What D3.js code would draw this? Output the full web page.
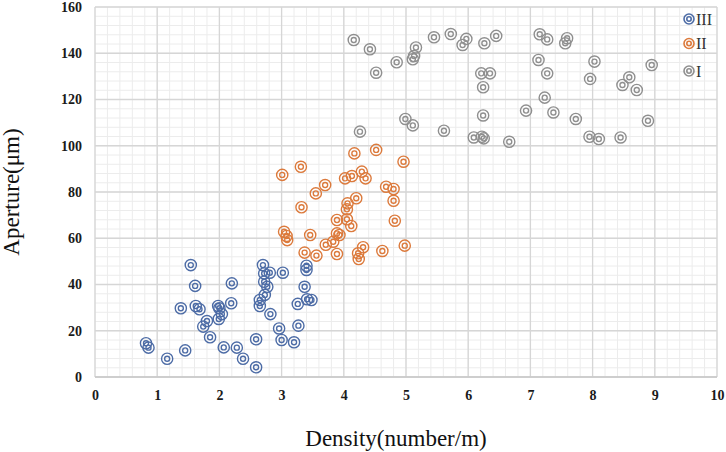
<!DOCTYPE html>
<html>
<head>
<meta charset="utf-8">
<script src="https://cdn.jsdelivr.net/npm/d3@7"></script>
<style>
  body { margin: 0; background: #fff; }
  text { font-family: "Liberation Serif", "Times New Roman", serif; }
</style>
</head>
<body>
<div id="chart"></div>
<script>
// group III (blue)
var seriesIII = [
  [0.82, 14.6], [0.86, 12.7], [1.16, 7.9], [1.45, 11.5], [1.38, 29.7],
  [1.54, 48.4], [1.61, 39.4], [1.62, 30.7], [1.68, 29.3], [1.80, 24.2],
  [1.74, 21.8], [1.85, 17.2], [1.98, 30.7], [2.00, 29.7], [2.04, 27.2],
  [1.99, 25.1], [2.20, 40.5], [2.19, 31.9], [2.07, 12.8], [2.28, 12.7],
  [2.38, 7.9], [2.59, 16.3], [2.59, 4.2], [2.70, 48.4], [2.72, 44.8],
  [2.81, 45.1], [2.72, 41.2], [2.77, 39.0], [2.73, 35.5], [2.65, 33.3],
  [2.65, 30.7], [2.82, 27.2], [3.02, 45.1], [2.96, 21.0], [3.00, 16.0],
  [3.20, 15.0], [3.27, 22.2], [3.26, 31.6], [3.37, 39.0], [3.40, 48.1],
  [3.40, 46.3], [3.41, 33.6], [3.48, 33.3]
];

// group II (orange)
var seriesII = [
  [3.01, 87.4], [3.31, 90.9], [4.17, 96.7], [4.52, 98.2], [4.96, 93.1],
  [3.70, 83.0], [3.55, 79.4], [4.02, 85.9], [4.13, 86.9], [4.29, 88.8],
  [4.35, 85.9], [4.68, 82.3], [4.80, 81.3], [4.80, 76.2], [4.20, 77.3],
  [4.06, 75.1], [4.05, 72.5], [3.32, 73.4], [3.89, 67.9], [4.05, 68.2],
  [4.12, 65.3], [4.82, 67.6], [3.04, 62.8], [3.08, 61.0], [3.09, 59.2],
  [3.46, 61.4], [3.89, 62.1], [3.93, 61.4], [3.71, 57.2], [3.83, 58.5],
  [3.37, 53.8], [3.56, 52.5], [3.89, 53.2], [4.23, 53.5], [4.31, 56.1],
  [4.62, 54.5], [4.98, 56.8], [4.24, 51.0]
];

// group I (grey)
var seriesI = [
  [4.16, 145.7], [4.42, 141.7], [4.52, 131.6], [4.85, 136.1], [5.16, 142.5],
  [5.13, 138.8], [5.11, 137.4], [5.45, 146.9], [5.72, 148.3], [5.91, 143.6],
  [5.97, 146.2], [6.26, 144.3], [6.45, 147.5], [6.21, 131.3], [6.35, 131.3],
  [6.24, 125.3], [6.93, 115.2], [6.24, 113.1], [4.99, 111.6], [5.11, 108.8],
  [4.26, 106.1], [5.61, 106.5], [6.09, 103.6], [6.22, 103.9], [6.25, 103.2],
  [6.66, 101.7], [7.15, 148.2], [7.27, 146.0], [7.59, 146.5], [7.56, 144.3],
  [7.13, 137.1], [7.27, 131.3], [8.03, 136.4], [7.96, 128.9], [8.48, 126.3],
  [8.59, 129.6], [8.71, 124.1], [7.23, 120.8], [7.37, 114.4], [7.73, 111.6],
  [7.95, 103.9], [8.10, 102.9], [8.45, 103.6], [8.95, 134.9], [8.89, 110.8]
];

var groupNames = ["III", "II", "I"];
var groupColors = ["#4d6ca6", "#dc7a3c", "#8f8f8f"];
var xTicks = [0, 1, 2, 3, 4, 5, 6, 7, 8, 9, 10];
var yTicks = [0, 20, 40, 60, 80, 100, 120, 140, 160];

var width = 726, height = 452;
var margin = { top: 7, right: 9, bottom: 75, left: 95 };

var svg = d3.select("#chart").append("svg")
  .attr("width", width)
  .attr("height", height);

var x = d3.scaleLinear().domain([0, 10]).range([margin.left, width - margin.right]);
var y = d3.scaleLinear().domain([0, 160]).range([height - margin.bottom, margin.top]);

// minor grid
var grid = svg.append("g").attr("class", "grid");
grid.selectAll(".minorX")
  .data(d3.range(0, 10.01, 0.2))
  .enter().append("line")
  .attr("x1", function(d) { return x(d); })
  .attr("x2", function(d) { return x(d); })
  .attr("y1", y(0)).attr("y2", y(160))
  .attr("stroke", "#ececec").attr("stroke-width", 1);
grid.selectAll(".minorY")
  .data(d3.range(0, 160.1, 4))
  .enter().append("line")
  .attr("y1", function(d) { return y(d); })
  .attr("y2", function(d) { return y(d); })
  .attr("x1", x(0)).attr("x2", x(10))
  .attr("stroke", "#ececec").attr("stroke-width", 1);

// major grid
grid.selectAll(".majorX")
  .data(xTicks)
  .enter().append("line")
  .attr("x1", function(d) { return x(d); })
  .attr("x2", function(d) { return x(d); })
  .attr("y1", y(0)).attr("y2", y(160))
  .attr("stroke", "#d6d6d6").attr("stroke-width", 1.3);
grid.selectAll(".majorY")
  .data(yTicks)
  .enter().append("line")
  .attr("y1", function(d) { return y(d); })
  .attr("y2", function(d) { return y(d); })
  .attr("x1", x(0)).attr("x2", x(10))
  .attr("stroke", "#d6d6d6").attr("stroke-width", 1.3);

// bottom axis line
svg.append("line")
  .attr("x1", x(0)).attr("x2", x(10))
  .attr("y1", y(0)).attr("y2", y(0))
  .attr("stroke", "#c8c8c8").attr("stroke-width", 1.5);

// axes
var xAxis = svg.append("g")
  .attr("transform", "translate(0," + y(0) + ")")
  .call(d3.axisBottom(x).tickValues(xTicks).tickSize(0).tickPadding(13).tickFormat(d3.format("d")));
var yAxis = svg.append("g")
  .attr("transform", "translate(" + x(0) + ",0)")
  .call(d3.axisLeft(y).tickValues(yTicks).tickSize(0).tickPadding(13).tickFormat(d3.format("d")));
[xAxis, yAxis].forEach(function(a) {
  a.select(".domain").remove();
  a.selectAll("text")
    .style("font-family", '"Liberation Serif", serif')
    .style("font-size", "14px")
    .style("font-weight", "bold")
    .attr("fill", "#1a1a1a");
});

// axis titles
svg.append("text")
  .attr("x", 396)
  .attr("y", 446)
  .attr("text-anchor", "middle")
  .style("font-size", "23px")
  .attr("fill", "#111")
  .text("Density(number/m)");

svg.append("text")
  .attr("transform", "translate(19,192) rotate(-90)")
  .attr("text-anchor", "middle")
  .style("font-size", "23px")
  .attr("fill", "#111")
  .text("Aperture(\u03bcm)");

// points
var allSeries = [seriesIII, seriesII, seriesI];
var points = svg.append("g").attr("class", "points");
allSeries.forEach(function(series, i) {
  var g = points.append("g");
  var pt = g.selectAll("g")
    .data(series)
    .enter().append("g")
    .attr("transform", function(d) { return "translate(" + x(d[0]) + "," + y(d[1]) + ")"; });
  pt.append("circle").attr("r", 5.6)
    .attr("fill", "none").attr("stroke", groupColors[i]).attr("stroke-width", 1.4);
  pt.append("circle").attr("r", 2.5)
    .attr("fill", "none").attr("stroke", groupColors[i]).attr("stroke-width", 1.4);
});

// legend
var legend = svg.append("g").attr("class", "legend");
var legendItem = legend.selectAll("g")
  .data(groupNames)
  .enter().append("g")
  .attr("transform", function(d, i) { return "translate(689," + [19, 43.5, 71][i] + ")"; });
legendItem.append("circle").attr("r", 5)
  .attr("fill", "none")
  .attr("stroke", function(d, i) { return groupColors[i]; })
  .attr("stroke-width", 1.6);
legendItem.append("circle").attr("r", 2.2)
  .attr("fill", "none")
  .attr("stroke", function(d, i) { return groupColors[i]; })
  .attr("stroke-width", 1.6);
legendItem.append("text")
  .attr("x", 7)
  .attr("y", 5.5)
  .style("font-size", "16px")
  .attr("fill", "#333")
  .text(function(d) { return d; });
</script>
</body>
</html>
